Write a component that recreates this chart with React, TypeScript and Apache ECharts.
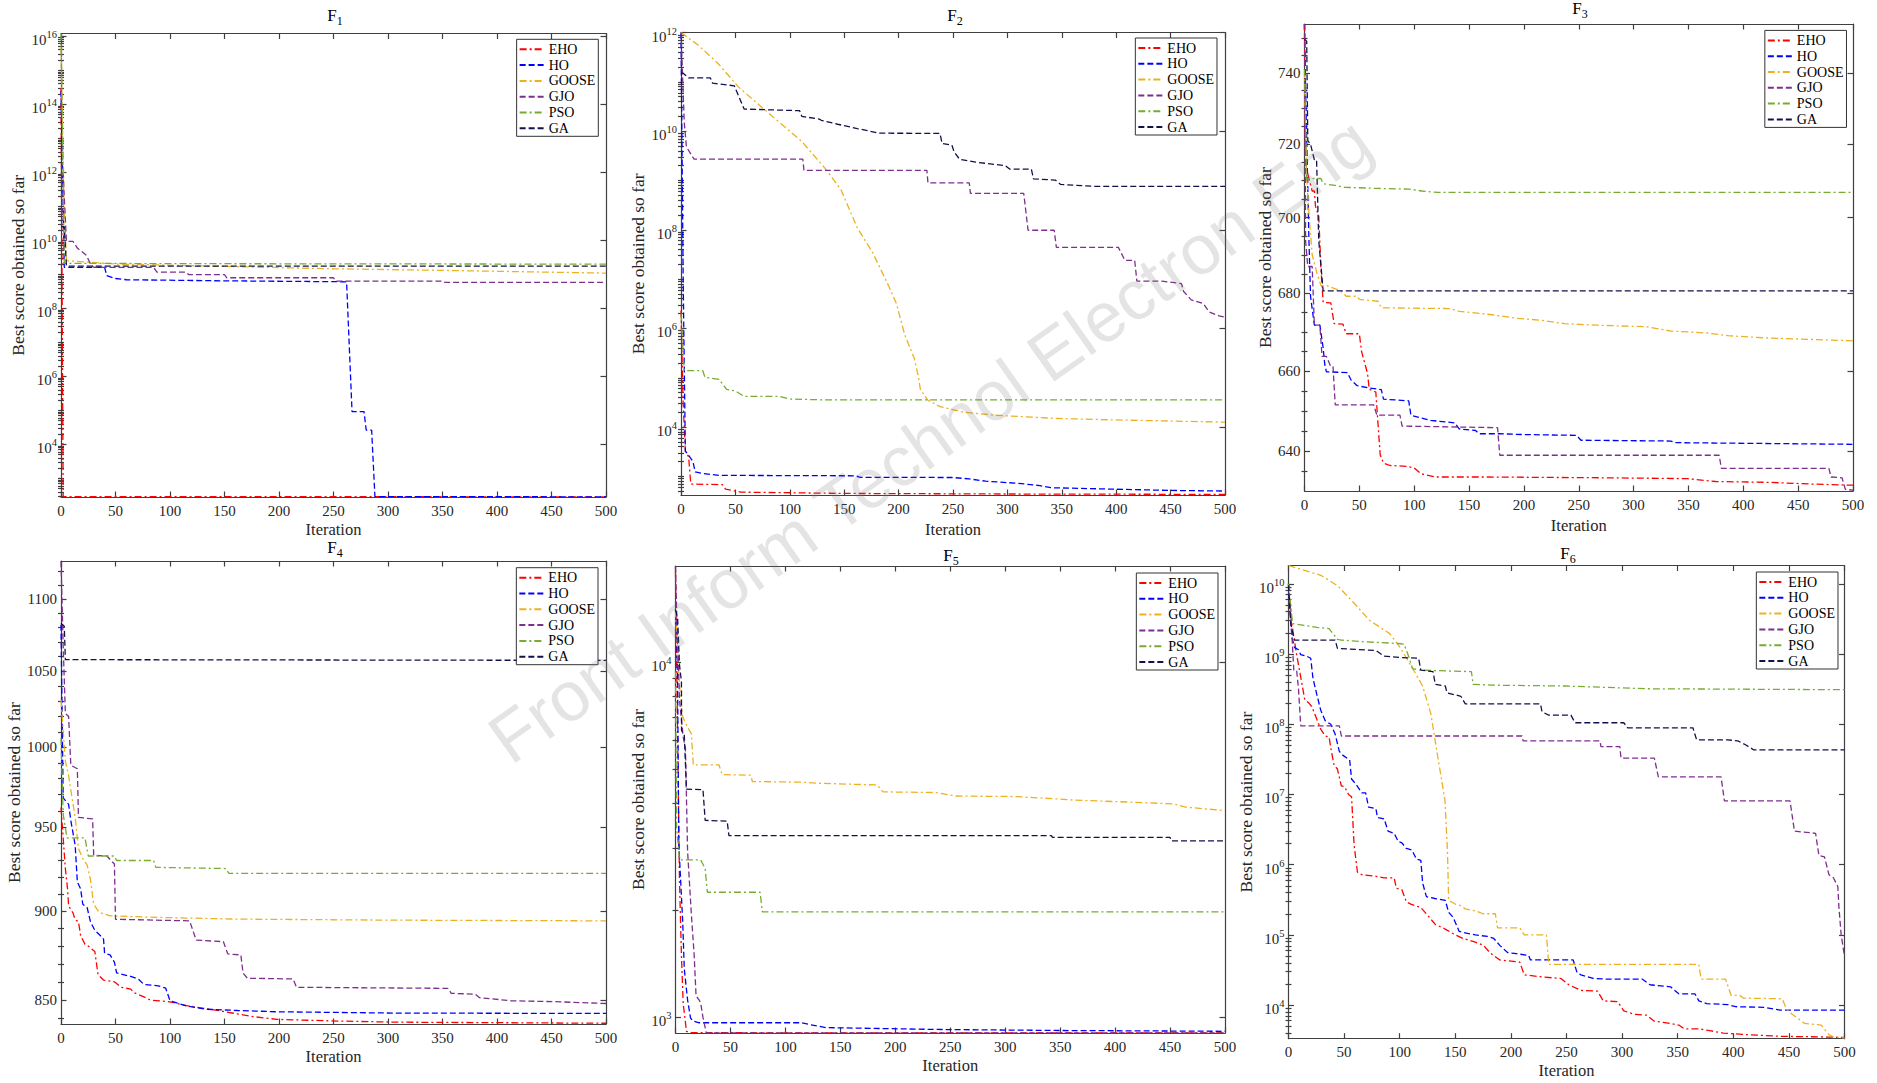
import React, { useEffect, useRef } from "react";
import * as echarts from "echarts";

// ---------- names / styles ----------
const NAMES = ["EHO", "HO", "GOOSE", "GJO", "PSO", "GA"];
const COLORS = ["#FF0000", "#0000FF", "#EDB120", "#7E2F8E", "#77AC30", "#12124A"];
const DASHDOT = [7, 3, 2, 3];
const DASH = [6, 3];
const DASHES = [DASHDOT, DASH, DASHDOT, DASH, DASHDOT, DASH];
const TITLES = ["1", "2", "3", "4", "5", "6"];

// ---------- F1 ----------
const F1_EHO = [[0, 3e14], [2, 290], [500, 285]];
const F1_HO = [[0, 2.4e14], [3, 1.6e9], [40, 1.6e9], [42, 9.1e8], [50, 7.5e8], [60, 6.9e8], [150, 6.4e8], [262, 6.0e8], [267, 9.1e4], [278, 9.1e4], [280, 2.6e4], [285, 2.6e4], [288, 290], [500, 285]];
const F1_GOOSE = [[0, 5e15], [3, 1e11], [5, 2.5e9], [50, 2.0e9], [150, 1.7e9], [250, 1.45e9], [350, 1.3e9], [450, 1.15e9], [500, 1.08e9]];
const F1_GJO = [[0, 1e12], [2, 8e11], [5, 9.3e9], [11, 9.3e9], [15, 5.9e9], [23, 3.7e9], [27, 2.05e9], [30, 1.6e9], [85, 1.6e9], [88, 1.15e9], [115, 1.15e9], [117, 9.8e8], [150, 9.8e8], [152, 7.9e8], [250, 7.9e8], [252, 6.3e8], [350, 6.3e8], [352, 5.8e8], [500, 5.8e8]];
const F1_PSO = [[0, 1.2e16], [3, 2.1e9], [100, 2.05e9], [500, 1.98e9]];
const F1_GA = [[0, 2.5e10], [3, 2.5e10], [5, 1.74e9], [500, 1.74e9]];
const F1_YLABELS = [1e4, 1e6, 1e8, 1e10, 1e12, 1e14, 1e16];

// ---------- F2 ----------
const F2_EHO = [[0, 2.3e6], [2, 3e4], [4, 3200], [7, 2500], [9, 700], [38, 680], [41, 550], [55, 480], [150, 452], [300, 440], [500, 432]];
const F2_HO = [[0, 9.5e11], [2, 1e7], [4, 3300], [8, 2500], [11, 2000], [13, 1230], [20, 1150], [35, 1050], [160, 1030], [165, 960], [250, 950], [265, 890], [280, 800], [310, 724], [330, 650], [340, 590], [400, 550], [450, 520], [500, 505]];
const F2_GOOSE = [[0, 1e12], [16, 5.5e11], [34.5, 2.3e11], [52.7, 7.9e10], [85, 1.9e10], [111, 6.2e9], [133, 1.7e9], [147, 6.5e8], [162, 1.1e8], [176, 3.5e7], [191, 7.2e6], [198, 3.2e6], [205.5, 7.6e5], [214.5, 2.45e5], [218, 1.1e5], [220, 5.8e4], [227, 3.5e4], [238, 2.6e4], [260, 2.0e4], [289, 1.74e4], [344, 1.5e4], [398, 1.4e4], [500, 1.26e4]];
const F2_GJO = [[0, 1e12], [3, 1.5e10], [5, 4.8e9], [12, 2.7e9], [112, 2.7e9], [113, 1.6e9], [226, 1.6e9], [227, 8.9e8], [265, 8.9e8], [266, 5.5e8], [315, 5.5e8], [319, 9.8e7], [343, 9.8e7], [345, 4.4e7], [402, 4.4e7], [408, 2.4e7], [417, 2.4e7], [419, 9.1e6], [442, 9.1e6], [460, 8.1e6], [462, 5.6e6], [469, 3.8e6], [480, 3.2e6], [485.5, 2.15e6], [494.5, 1.8e6], [500, 1.7e6]];
const F2_PSO = [[0, 2e6], [3, 1.4e5], [20, 1.4e5], [22, 1.02e5], [35, 9.3e4], [42, 5.8e4], [50, 5.4e4], [58, 4.2e4], [90, 4.2e4], [100, 3.7e4], [130, 3.57e4], [500, 3.57e4]];
const F2_GA = [[0, 1.5e11], [2, 1.5e11], [7, 1.2e11], [27, 1.2e11], [29, 9.4e10], [49, 8.3e10], [58, 2.8e10], [109, 2.6e10], [111, 2.0e10], [127, 1.75e10], [129, 1.66e10], [144, 1.38e10], [162, 1.13e10], [182, 9.1e9], [238, 9.0e9], [240, 5.6e9], [249, 5.2e9], [251, 3.8e9], [256, 2.7e9], [271, 2.35e9], [298, 2.0e9], [302, 1.7e9], [322, 1.7e9], [324, 1.08e9], [344, 1.02e9], [349, 8.3e8], [380, 7.6e8], [500, 7.6e8]];
const F2_YLABELS = [1e4, 1e6, 1e8, 1e10, 1e12];

// ---------- F3 ----------
const F3_EHO = [[0, 754], [1, 714.3], [4, 710.6], [7, 707.2], [9, 707.2], [10, 703.1], [13, 700.3], [15, 686.5], [17, 677.6], [24, 677.5], [27, 672.1], [35, 672], [38, 669.5], [50, 669.5], [52, 665], [57.5, 659.3], [59, 655.4], [65, 654.7], [67, 646.8], [69, 639.1], [72, 637.1], [78, 636.5], [93, 636.3], [100, 635.9], [106, 634.5], [119, 633.7], [163, 633.7], [274, 633.5], [349, 633.3], [375, 632.6], [423, 632.4], [460, 632], [500, 631.7]];
const F3_HO = [[0, 754], [1, 735.4], [4, 694.7], [5.5, 679.2], [9, 671.7], [14, 671.7], [17, 665.9], [18.5, 661.6], [20, 659.8], [39, 659.6], [42.7, 657.6], [48, 656.3], [59, 655.7], [70, 655.3], [72, 652.9], [95, 652.5], [97, 648.9], [115, 647.6], [137, 647], [141, 645.5], [156, 645.1], [159, 644.3], [178, 644.3], [200, 644.1], [248, 643.9], [252, 642.7], [334, 642.5], [338, 642.1], [500, 641.7]];
const F3_GOOSE = [[0, 740], [1, 723.7], [2, 710.6], [4.5, 699.4], [7, 690.1], [11, 685.6], [15, 682], [20, 682], [33, 680.6], [38, 679.2], [48, 679.2], [50, 678.4], [67, 677.9], [70, 676.2], [133, 676], [141, 675.3], [171, 674.4], [193, 673.5], [215, 673], [237, 672.1], [267, 671.7], [312, 671.3], [334, 670.2], [367, 669.7], [386, 669], [423, 668.4], [500, 667.7]];
const F3_GJO = [[0, 754], [1, 693.8], [3, 687], [7, 687], [9, 671.7], [14, 671.7], [16, 663.7], [20, 663.7], [24, 661.1], [26, 661.1], [28, 651.5], [63, 651.5], [66, 648.9], [87, 648.9], [89, 646.2], [176, 645.8], [178, 639], [378, 639], [380, 635.8], [478, 635.8], [480, 633.7], [490, 633.5], [493, 630.7], [500, 630.5]];
const F3_PSO = [[0, 741], [2, 710.6], [15, 710.6], [17, 709.2], [28, 708.7], [37, 708.2], [67, 707.9], [96, 707.7], [107, 707.2], [122, 706.8], [500, 706.8]];
const F3_GA = [[0, 749.6], [2, 749], [3, 721], [5.5, 720], [9, 715.7], [11, 715.7], [13, 693.8], [17, 680.6], [500, 680.6]];
const F3_YLABELS = [640, 660, 680, 700, 720, 740];

// ---------- F4 ----------
const F4_EHO = [[0, 962], [4, 925], [6, 913], [7, 903], [11, 899], [13, 895], [16, 894], [18, 886], [22, 881], [25, 880], [31, 877], [34, 864], [39, 861], [49, 860], [55, 857], [64, 856], [67, 854], [75, 852], [82, 850], [100, 849], [115, 847], [147, 844], [176, 841], [198, 839.5], [253, 838.6], [307, 838], [500, 837.4]];
const F4_HO = [[0, 1082], [2, 968], [7, 964], [9, 954], [13, 939], [15, 917], [18, 913], [20, 904], [24, 902], [27, 894], [31, 889], [36, 886], [39, 884], [40, 876], [45, 875], [49, 871], [51, 865], [64, 863], [71, 861.5], [76, 858.6], [89, 857.8], [96, 856.6], [100, 849.6], [115, 846.8], [133, 845], [162, 844.3], [198, 843.6], [307, 842.9], [500, 842.7]];
const F4_GOOSE = [[0, 1031], [4, 991], [7, 982], [9, 973], [13, 956], [16, 937], [20, 931], [24, 927], [27, 918.5], [30, 904], [35, 899.3], [45, 897.3], [89, 896.4], [162, 895.4], [307, 894.8], [500, 894.4]];
const F4_GJO = [[0, 1127], [2, 1068], [4, 1022], [7, 1020], [9, 988.5], [15, 986.3], [16, 956], [29, 955], [30, 932.9], [42, 932.5], [49, 927.7], [50, 895.3], [118, 894.4], [124, 883.4], [149, 882.5], [153, 875.6], [165, 875], [167, 864.9], [171, 862], [213, 861.6], [216, 857], [355, 856.4], [358, 853.7], [380, 853.2], [384, 851.3], [413, 849.6], [453, 849.1], [500, 848.1]];
const F4_PSO = [[0, 1006], [2, 958], [5.5, 943.4], [22, 943.4], [25, 932.5], [49, 932.5], [51, 929.8], [85, 929.8], [87, 925.7], [151, 925], [154, 922.1], [500, 922.1]];
const F4_GA = [[0, 1083], [3, 1081], [4, 1058], [500, 1057.5]];
const F4_YLABELS = [850, 900, 950, 1000, 1050, 1100];

// ---------- F5 ----------
const F5_EHO = [[0, 18000], [2, 6000], [3.6, 2449], [5.4, 1496], [7, 1094], [10, 914], [12.6, 906], [100, 905], [500, 904.5]];
const F5_HO = [[0, 14000], [1, 12850], [2, 8030], [3, 3061], [4.3, 2563], [6.5, 1873], [8, 1367], [11, 1119], [13.7, 995], [16, 977], [21.6, 966], [115, 966], [122, 955], [137, 936], [237, 925], [345, 919], [500, 914]];
const F5_GOOSE = [[0, 14000], [3.6, 8590], [6.5, 7020], [10.8, 6560], [14.4, 6280], [16.2, 5129], [39.6, 5129], [42.4, 4818], [68.3, 4800], [70, 4607], [115, 4587], [129.5, 4556], [183.5, 4505], [189, 4308], [237, 4290], [255, 4194], [309, 4180], [345, 4120], [363, 4083], [417, 4029], [453, 3984], [464, 3904], [500, 3816]];
const F5_GJO = [[0, 18600], [1, 14060], [3.6, 7852], [7, 6140], [9, 5740], [11, 2932], [14.4, 1959], [17, 1496], [18.7, 1149], [21.6, 1119], [23, 1094], [25, 1000], [28, 905], [500, 904.5]];
const F5_PSO = [[0, 9400], [1, 3430], [3.6, 2774], [23, 2774], [27, 2618], [29, 2249], [77, 2249], [79, 1981], [500, 1981]];
const F5_GA = [[0, 14000], [2, 13150], [3.6, 9820], [5.4, 8790], [5.5, 6410], [8, 6210], [10, 4386], [25, 4370], [27, 3582], [47, 3565], [48.6, 3245], [342, 3245], [343, 3209], [450, 3209], [451, 3135], [500, 3135]];
const F5_YLABELS = [1e3, 1e4];

// ---------- F6 ----------
const F6_EHO = [[0, 1e10], [3, 2.7e9], [7.3, 9.8e8], [11, 4.7e8], [14.6, 2.24e8], [18.3, 2.0e8], [21, 1.78e8], [29, 8.5e7], [33, 6.8e7], [36.5, 6.6e7], [38, 4.6e7], [41, 2.6e7], [44, 2.3e7], [47.5, 1.32e7], [50.4, 1.29e7], [54, 1.0e7], [56.7, 9.3e6], [59, 1.9e6], [62, 7.8e5], [66, 7.2e5], [77, 6.9e5], [86, 6.5e5], [95, 6.5e5], [97, 4.6e5], [102, 4.4e5], [106, 2.95e5], [110, 2.75e5], [119, 2.45e5], [124, 2.0e5], [132, 1.41e5], [139, 1.26e5], [142.5, 1.17e5], [150, 1.0e5], [157, 8.9e4], [168, 7.9e4], [175.4, 7.1e4], [181, 5.6e4], [190, 4.4e4], [208, 4.1e4], [212, 2.7e4], [230, 2.5e4], [245, 2.4e4], [252, 1.95e4], [263, 1.62e4], [278, 1.58e4], [283, 1.15e4], [296, 1.12e4], [301.5, 8.3e3], [311, 7.4e3], [322, 7.2e3], [329, 5.9e3], [340, 5.6e3], [351, 5.2e3], [356, 4.6e3], [369, 4.6e3], [380, 4.3e3], [391, 4.0e3], [413, 3.8e3], [442, 3.6e3], [468, 3.55e3], [500, 3.47e3]];
const F6_HO = [[0, 1e10], [3, 1.74e9], [5.5, 1.23e9], [9, 1.15e9], [11, 9.8e8], [16.4, 9.3e8], [20, 8.7e8], [22, 4.5e8], [25.6, 2.6e8], [29, 1.58e8], [33, 1.12e8], [38, 1.0e8], [42, 7.2e7], [45.7, 4.1e7], [49, 3.6e7], [55, 3.1e7], [56.7, 1.66e7], [61, 1.38e7], [66, 1.05e7], [69.4, 1.05e7], [72, 6.6e6], [78.6, 6.3e6], [80, 4.7e6], [86, 4.5e6], [89.5, 3.0e6], [95, 2.8e6], [98.7, 2.14e6], [102, 2.04e6], [106, 1.7e6], [111, 1.62e6], [115, 1.2e6], [119, 1.15e6], [120.6, 5.5e5], [124, 3.5e5], [131.6, 3.3e5], [141, 3.1e5], [144, 2.1e5], [148, 1.78e5], [153.5, 1.12e5], [161, 1.05e5], [168, 1.0e5], [179, 9.5e4], [184.6, 8.9e4], [190, 7.1e4], [197, 5.6e4], [205, 5.4e4], [216, 5.1e4], [217.5, 4.4e4], [256, 4.4e4], [259.5, 2.9e4], [263, 2.7e4], [274, 2.4e4], [285, 2.35e4], [318, 2.35e4], [325, 1.95e4], [343.6, 1.82e4], [351, 1.45e4], [365.5, 1.45e4], [369, 1.15e4], [376, 1.05e4], [395, 1.02e4], [402, 9.5e3], [427.6, 9.3e3], [438.6, 8.7e3], [442, 8.5e3], [500, 8.5e3]];
const F6_GOOSE = [[0, 1.82e10], [29, 1.32e10], [44, 9.4e9], [58.5, 5.4e9], [73, 3.0e9], [91, 1.95e9], [100.5, 1.23e9], [110, 6.9e8], [120.6, 3.5e8], [128, 1.41e8], [135, 2.9e7], [140.7, 8.3e6], [143, 1.5e6], [144, 3.1e5], [150, 2.75e5], [155, 2.6e5], [159, 2.35e5], [168, 2.2e5], [175, 2.0e5], [186, 2.0e5], [188, 1.26e5], [208, 1.26e5], [212, 1.0e5], [232, 1.0e5], [234, 3.8e4], [369, 3.8e4], [371, 2.35e4], [393, 2.35e4], [398, 1.38e4], [405.7, 1.38e4], [409, 1.26e4], [444, 1.23e4], [448, 8.7e3], [453, 7.4e3], [464, 5.5e3], [479, 5.2e3], [486, 3.8e3], [490, 3.55e3], [500, 3.4e3]];
const F6_GJO = [[0, 1e10], [3, 1.95e9], [4.75, 5.9e8], [7.3, 5.9e8], [9, 3.16e8], [11, 9.5e7], [45.7, 9.5e7], [47.5, 6.8e7], [210, 6.8e7], [211, 5.8e7], [280, 5.8e7], [281, 4.8e7], [298, 4.8e7], [299, 3.3e7], [329, 3.3e7], [332.6, 1.78e7], [389, 1.78e7], [392, 8.1e6], [451, 8.1e6], [455, 3.0e6], [474, 2.8e6], [477, 1.35e6], [482, 1.29e6], [486, 7.2e5], [490, 6.5e5], [494, 4.9e5], [495, 2.45e5], [497, 1.0e5], [500, 5.0e4]];
const F6_PSO = [[0, 1e10], [2, 4.8e9], [3.7, 2.7e9], [11, 2.6e9], [25.6, 2.4e9], [36.5, 2.3e9], [40, 1.95e9], [44, 1.62e9], [47.5, 1.58e9], [66, 1.5e9], [98.7, 1.41e9], [104, 1.38e9], [108, 9.3e8], [111.5, 6.2e8], [117, 5.9e8], [164.5, 5.6e8], [166, 3.7e8], [183, 3.6e8], [248.5, 3.5e8], [321.6, 3.2e8], [394.7, 3.16e8], [500, 3.1e8]];
const F6_GA = [[0, 9.5e9], [2, 2.7e9], [3.7, 2.0e9], [5.5, 1.58e9], [42, 1.58e9], [44, 1.2e9], [78.6, 1.12e9], [86, 9.3e8], [102, 8.9e8], [117, 8.7e8], [119, 5.9e8], [130, 5.6e8], [132, 3.7e8], [141, 3.5e8], [142.5, 2.8e8], [155, 2.5e8], [159, 1.95e8], [226.6, 1.95e8], [228, 1.5e8], [234, 1.35e8], [254, 1.35e8], [257.7, 1.05e8], [301.5, 1.05e8], [305, 8.9e7], [363.7, 8.9e7], [367, 6.0e7], [394.7, 6.0e7], [404, 5.8e7], [411, 5.1e7], [418.5, 4.3e7], [500, 4.3e7]];
const F6_YLABELS = [1e4, 1e5, 1e6, 1e7, 1e8, 1e9, 1e10];

// ---------- panels ----------
const PANELS = [
  { series: [F1_EHO, F1_HO, F1_GOOSE, F1_GJO, F1_PSO, F1_GA], yMin: 282, yMax: 1.2e16, labels: F1_YLABELS, pow: true, minorStep: 0 },
  { series: [F2_EHO, F2_HO, F2_GOOSE, F2_GJO, F2_PSO, F2_GA], yMin: 420, yMax: 1e12, labels: F2_YLABELS, pow: true, minorStep: 0 },
  { series: [F3_EHO, F3_HO, F3_GOOSE, F3_GJO, F3_PSO, F3_GA], yMin: 630.3, yMax: 754, labels: F3_YLABELS, pow: false, minorStep: 5 },
  { series: [F4_EHO, F4_HO, F4_GOOSE, F4_GJO, F4_PSO, F4_GA], yMin: 837, yMax: 1127.3, labels: F4_YLABELS, pow: false, minorStep: 10 },
  { series: [F5_EHO, F5_HO, F5_GOOSE, F5_GJO, F5_PSO, F5_GA], yMin: 904, yMax: 18600, labels: F5_YLABELS, pow: true, minorStep: 0 },
  { series: [F6_EHO, F6_HO, F6_GOOSE, F6_GJO, F6_PSO, F6_GA], yMin: 3327, yMax: 1.82e10, labels: F6_YLABELS, pow: true, minorStep: 0 },
];

// ---------- layout (pixels) ----------
const LAYOUT = [
  { l: 61, t: 33.5, r: 606, b: 497, xg: 24, yg: 34, legR: 598.3, legT: 39.3, tx: 335, ty: 15.6 },
  { l: 681, t: 32.5, r: 1225, b: 495, xg: 26, yg: 34, legR: 1217, legT: 38, tx: 955, ty: 15.6 },
  { l: 1304.5, t: 24, r: 1853, b: 491, xg: 26, yg: 29, legR: 1846.5, legT: 30.4, tx: 1580, ty: 8.7 },
  { l: 61, t: 561, r: 606, b: 1024, xg: 24, yg: 36, legR: 598, legT: 567.7, tx: 335, ty: 547.5 },
  { l: 675.5, t: 566, r: 1225, b: 1033, xg: 24, yg: 29, legR: 1218, legT: 573, tx: 951, ty: 555.6 },
  { l: 1288.5, t: 565.5, r: 1844.5, b: 1038.7, xg: 24, yg: 32, legR: 1838, legT: 572, tx: 1568, ty: 553.8 },
];

const W = 1877;
const H = 1083;
const SERIF = "'Liberation Serif', 'Times New Roman', serif";
const AXIS_COLOR = "#404040";
const TEXT_COLOR = "#262626";
const TICK_FONT = 15;

function minorValues(p: any, lmin: number, lmax: number): number[] {
  const out: number[] = [];
  const majors = p.labels.map((v: number) => Math.log10(v));
  const isMajor = (lv: number) => majors.some((m: number) => Math.abs(m - lv) < 1e-9);
  if (p.minorStep > 0) {
    const start = Math.ceil(p.yMin / p.minorStep) * p.minorStep;
    for (let v = start; v <= p.yMax; v += p.minorStep) {
      const lv = Math.log10(v);
      if (!isMajor(lv)) out.push(lv);
    }
  } else {
    for (let e = Math.floor(lmin) - 1; e <= Math.ceil(lmax); e++) {
      for (let k = 1; k <= 9; k++) {
        const lv = e + Math.log10(k);
        if (lv >= lmin - 1e-9 && lv <= lmax + 1e-9 && !isMajor(lv)) out.push(lv);
      }
    }
  }
  return out;
}

function buildOption() {
  const grids: any[] = [];
  const xAxes: any[] = [];
  const yAxes: any[] = [];
  const series: any[] = [];
  const legends: any[] = [];
  const graphics: any[] = [];
  const lineStyle = { color: AXIS_COLOR, width: 1.2 };

  PANELS.forEach((p, i) => {
    const L = LAYOUT[i];
    grids.push({ left: L.l, top: L.t, width: L.r - L.l, height: L.b - L.t, containLabel: false });
    const lmin = Math.log10(p.yMin);
    const lmax = Math.log10(p.yMax);
    const majors = p.labels.map((v) => Math.log10(v));
    const minors = minorValues(p, lmin, lmax);

    const xi = xAxes.length;
    const baseX = {
      type: "value", gridIndex: i, min: 0, max: 500, interval: 50,
      axisLine: { show: true, onZero: false, lineStyle },
      axisTick: { show: true, inside: true, length: 5.5, lineStyle },
      splitLine: { show: false },
    };
    xAxes.push({
      ...baseX, position: "bottom",
      axisLabel: { show: true, margin: 6, fontFamily: SERIF, fontSize: TICK_FONT, color: TEXT_COLOR },
      name: "Iteration", nameLocation: "middle", nameGap: L.xg,
      nameTextStyle: { fontFamily: SERIF, fontSize: 16.5, color: TEXT_COLOR, lineHeight: 16 },
    });
    xAxes.push({ ...baseX, position: "top", axisLabel: { show: false } });

    const yi = yAxes.length;
    const baseY = {
      type: "value", gridIndex: i, min: lmin, max: lmax,
      splitLine: { show: false },
    };
    const labelCfg: any = p.pow
      ? {
          show: true, customValues: majors, margin: 4, padding: [8, 0, 0, 0],
          formatter: (v: number) => `{b|10}{s|${Math.round(v)}}`,
          rich: {
            b: { fontFamily: SERIF, fontSize: TICK_FONT, color: TEXT_COLOR, lineHeight: 22 },
            s: { fontFamily: SERIF, fontSize: 10.5, color: TEXT_COLOR, lineHeight: 12, verticalAlign: "top" },
          },
        }
      : {
          show: true, customValues: majors, margin: 4,
          fontFamily: SERIF, fontSize: TICK_FONT, color: TEXT_COLOR,
          formatter: (v: number) => String(Math.round(Math.pow(10, v))),
        };
    yAxes.push({
      ...baseY, position: "left",
      axisLine: { show: true, onZero: false, lineStyle },
      axisTick: { show: true, inside: true, length: 5.5, customValues: majors, lineStyle },
      axisLabel: labelCfg,
      name: "Best score obtained so far", nameLocation: "middle", nameRotate: 90, nameGap: L.yg,
      nameTextStyle: { fontFamily: SERIF, fontSize: 17.5, color: TEXT_COLOR },
    });
    yAxes.push({
      ...baseY, position: "right",
      axisLine: { show: true, onZero: false, lineStyle },
      axisTick: { show: true, inside: true, length: 5.5, customValues: majors, lineStyle },
      axisLabel: { show: false },
    });
    yAxes.push({
      ...baseY, position: "left",
      axisLine: { show: false },
      axisTick: { show: true, inside: true, length: 3, customValues: minors, lineStyle },
      axisLabel: { show: false },
    });
    yAxes.push({
      ...baseY, position: "right",
      axisLine: { show: false },
      axisTick: { show: true, inside: true, length: 3, customValues: minors, lineStyle },
      axisLabel: { show: false },
    });

    p.series.forEach((d, k) => {
      series.push({
        type: "line", name: NAMES[k], xAxisIndex: xi, yAxisIndex: yi,
        data: d.map(([x, v]) => [x, Math.log10(v)]),
        symbol: "none", showSymbol: false, clip: true,
        lineStyle: { color: COLORS[k], width: 1.3, type: DASHES[k] },
        itemStyle: { color: COLORS[k] },
        z: 2 + k,
        emphasis: { disabled: true },
      });
    });

    legends.push({
      orient: "vertical", right: W - L.legR, top: L.legT,
      itemWidth: 24, itemHeight: 14, itemGap: 1.8, padding: [3, 3, 1, 2],
      borderColor: "#333", borderWidth: 1, backgroundColor: "#fff",
      textStyle: { fontFamily: SERIF, fontSize: 14, color: "#000" },
      itemStyle: { opacity: 0 },
      selectedMode: false, data: NAMES, z: 10,
    });

    graphics.push({
      type: "text", x: L.tx, y: L.ty, z: 10,
      style: {
        text: `{f|F}{s|${TITLES[i]}}`,
        align: "center", verticalAlign: "middle",
        rich: {
          f: { fontFamily: SERIF, fontSize: 17, fill: "#000", lineHeight: 22 },
          s: { fontFamily: SERIF, fontSize: 12, fill: "#000", lineHeight: 10, verticalAlign: "bottom" },
        },
      },
    });
  });

  graphics.push({
    type: "text", x: 930, y: 440, rotation: 0.616, z: 100, silent: true,
    style: {
      text: "Front Inform Technol Electron Eng",
      fontFamily: "'Liberation Sans', Arial, sans-serif", fontSize: 70,
      fill: "rgba(120,120,120,0.2)", align: "center", verticalAlign: "middle",
    },
  });

  return {
    animation: false,
    backgroundColor: "#ffffff",
    grid: grids, xAxis: xAxes, yAxis: yAxes, series, legend: legends, graphic: graphics,
  };
}

export default function App() {
  const ref = useRef<HTMLDivElement>(null);
  useEffect(() => {
    if (!ref.current) return;
    const chart = echarts.init(ref.current, undefined, { renderer: "svg", width: W, height: H });
    chart.setOption(buildOption() as any);
    return () => chart.dispose();
  }, []);
  return <div ref={ref} style={{ position: "absolute", left: 0, top: 0, width: W, height: H }} />;
}
